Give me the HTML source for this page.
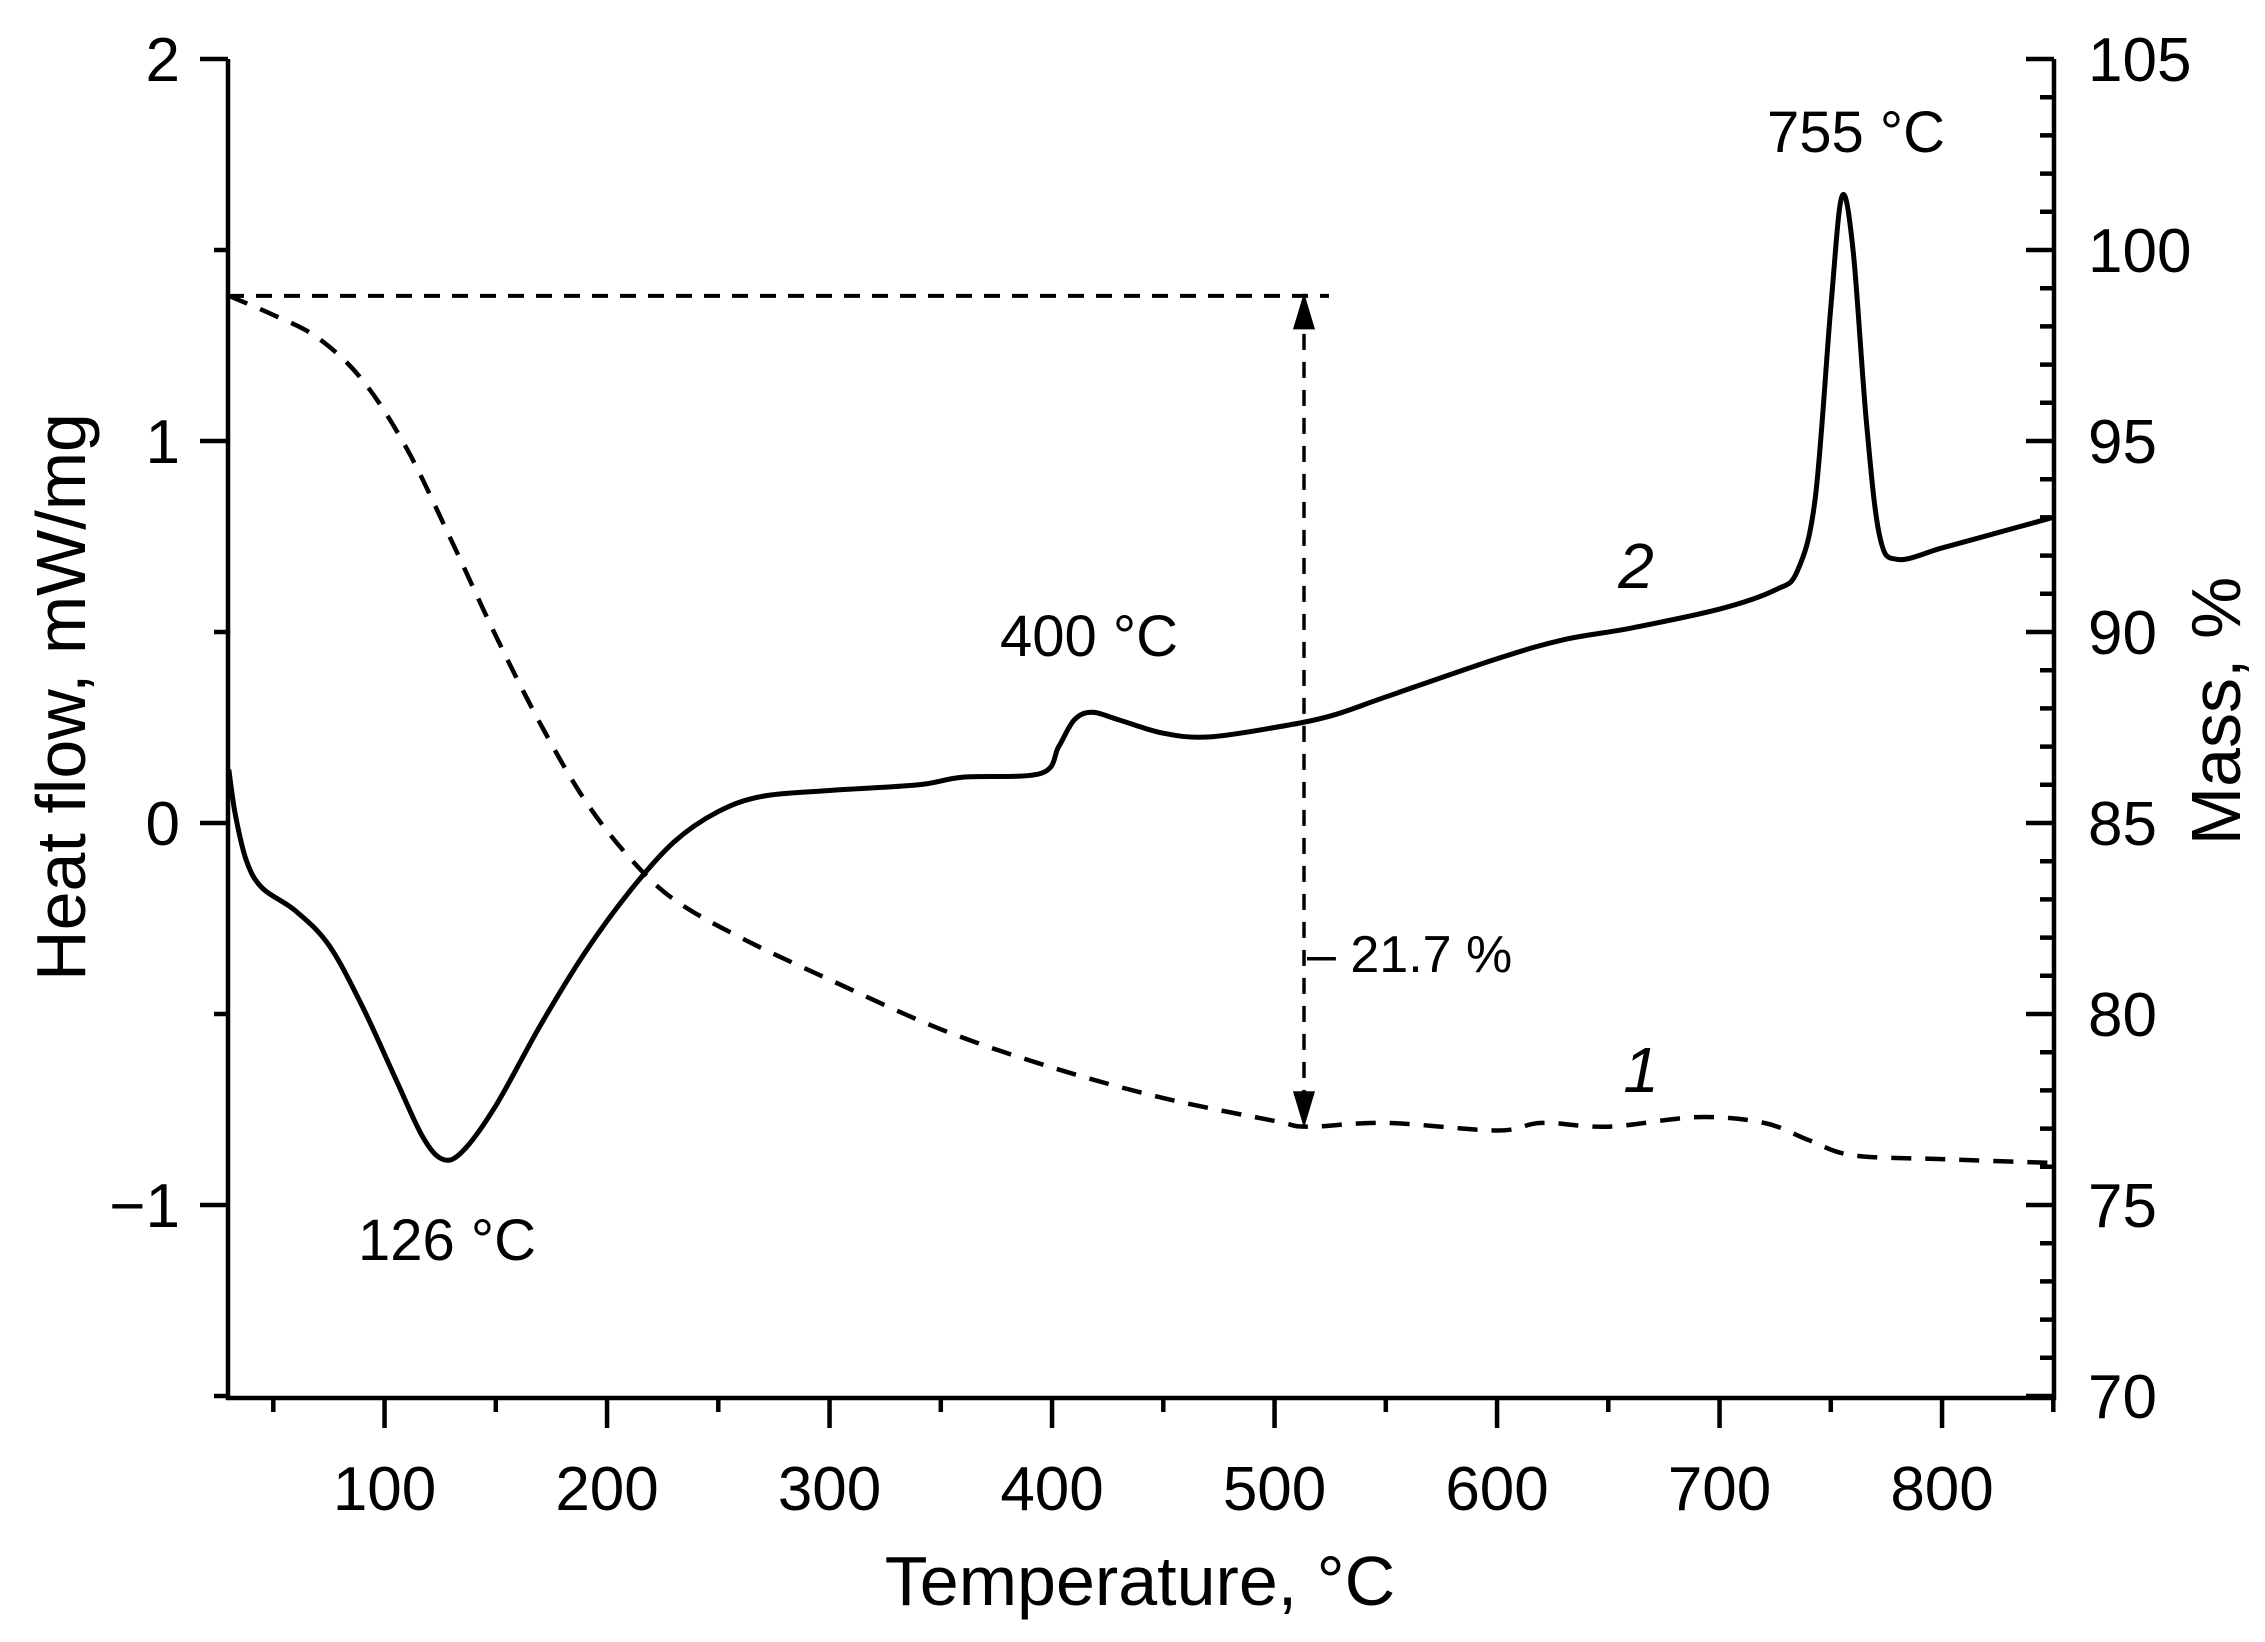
<!DOCTYPE html>
<html><head><meta charset="utf-8"><style>
html,body{margin:0;padding:0;background:#fff;}
svg{display:block;font-family:"Liberation Sans",Arial,sans-serif;}
</style></head><body>
<svg id="s" width="2265" height="1642" viewBox="0 0 2265 1642" xmlns="http://www.w3.org/2000/svg">
<rect width="2265" height="1642" fill="#fff"/>
<g id="axes" stroke="#000" stroke-width="4.5" fill="none"></g>
<g id="curves" fill="none" stroke="#000"></g>
<g font-size="60" fill="#000">
<text x="1140" y="1605" font-size="70" text-anchor="middle">Temperature, °C</text>
<text transform="translate(85,697) rotate(-90)" font-size="70" text-anchor="middle">Heat flow, mW/mg</text>
<text transform="translate(2240,711) rotate(-90)" font-size="70" text-anchor="middle">Mass, %</text>
<text x="1856" y="152" text-anchor="middle" font-size="58">755 °C</text>
<text x="1089" y="656" text-anchor="middle" font-size="58">400 °C</text>
<text x="447" y="1260" text-anchor="middle" font-size="58">126 °C</text>
<text x="1307" y="972" font-size="52">– 21.7 %</text>
<text x="1636" y="588" font-size="64" font-style="italic" text-anchor="middle">2</text>
<text x="1641" y="1092" font-size="64" font-style="italic" text-anchor="middle">1</text>
</g>
<g id="labels" font-size="62" fill="#000"></g>
</svg>
<script>
const X=T=>228.8+(T-30)*2.225, YH=v=>823-382*v, YM=m=>59+(105-m)*38.2;
const ax=document.getElementById('axes'), lb=document.getElementById('labels'), cv=document.getElementById('curves');
let d='M228,59V1398H2054V59';
for(let v=-1.5;v<=2.001;v+=0.5){const y=YH(v);const maj=Math.abs(v-Math.round(v))<1e-6;d+=`M228,${y}H${maj?200:214}`;
 if(maj){lb.innerHTML+=`<text x="180" y="${y+22}" text-anchor="end">${v<0?'−'+(-v):v}</text>`;}}
for(let m=70;m<=105;m++){const y=YM(m);const maj=m%5==0;d+=`M2054,${y}H${maj?2026:2040}`;
 if(maj)lb.innerHTML+=`<text x="2088" y="${y+22}">${m}</text>`;}
for(let T=50;T<=850;T+=50){const x=X(T);const maj=T%100==0;d+=`M${x},1398V${maj?1428:1412}`;
 if(maj)lb.innerHTML+=`<text x="${x}" y="1510" text-anchor="middle">${T}</text>`;}
ax.innerHTML=`<path d="${d}"/>`;
function smooth(pts){let s=`M${pts[0][0]},${pts[0][1]}`;for(let i=0;i<pts.length-1;i++){const p0=pts[Math.max(0,i-1)],p1=pts[i],p2=pts[i+1],p3=pts[Math.min(pts.length-1,i+2)];
 s+=`C${p1[0]+(p2[0]-p0[0])/6},${p1[1]+(p2[1]-p0[1])/6} ${p2[0]-(p3[0]-p1[0])/6},${p2[1]-(p3[1]-p1[1])/6} ${p2[0]},${p2[1]}`;}return s;}
const hf=[[30,0.14],[33,0.02],[38,-0.1],[45,-0.17],[60,-0.23],[75,-0.32],[90,-0.48],[105,-0.67],[117,-0.82],[126,-0.88],[135,-0.86],[150,-0.74],[170,-0.53],[190,-0.34],[210,-0.18],[230,-0.05],[250,0.03],[270,0.07],[300,0.085],[340,0.1],[360,0.12],[395,0.13],[403,0.2],[410,0.27],[418,0.29],[430,0.27],[450,0.235],[470,0.225],[500,0.25],[525,0.28],[550,0.33],[600,0.43],[630,0.48],[660,0.51],[700,0.56],[725,0.61],[735,0.66],[743,0.85],[750,1.35],[755,1.64],[760,1.5],[766,1.05],[772,0.75],[780,0.69],[800,0.72],[825,0.76],[850,0.8]];
const ms=[[30,98.8],[50,98.3],[70,97.7],[90,96.6],[110,94.8],[130,92.4],[150,89.9],[170,87.6],[190,85.6],[210,84.1],[230,83.0],[260,82.0],[300,80.9],[350,79.6],[400,78.6],[450,77.8],[500,77.2],[515,77.05],[550,77.15],[600,76.95],[620,77.15],[650,77.05],[690,77.3],[720,77.15],[740,76.7],[760,76.3],[800,76.2],[850,76.1]];
const yTop=YM(98.8), yBot=YM(77.1), xa=1304;
cv.innerHTML=`<path d="${smooth(hf.map(p=>[X(p[0]),YH(p[1])]))}" stroke-width="5"/>
<path d="${smooth(ms.map(p=>[X(p[0]),YM(p[1])]))}" stroke-width="4.5" stroke-dasharray="20,14"/>
<path d="M228,${yTop}H1329" stroke-width="4" stroke-dasharray="16,12"/>
<path d="M${xa},${yTop+10}V${yBot-10}" stroke-width="3.5" stroke-dasharray="16,12"/>
<path d="M${xa-9},${yTop+32}L${xa},${yTop+2}L${xa+9},${yTop+32}Z" stroke-width="3" fill="#000"/>
<path d="M${xa-9},${yBot-32}L${xa},${yBot-2}L${xa+9},${yBot-32}Z" stroke-width="3" fill="#000"/>`;
</script>
</body></html>
